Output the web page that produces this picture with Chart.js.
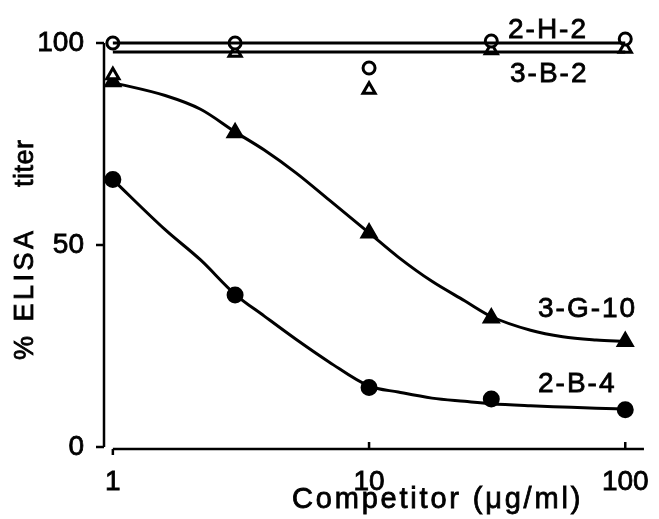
<!DOCTYPE html>
<html>
<head>
<meta charset="utf-8">
<script src="https://cdn.jsdelivr.net/npm/chart.js@4/dist/chart.umd.min.js"></script>
<style>
  html, body { margin: 0; padding: 0; background: #fff; }
  #wrap { width: 659px; height: 519px; }
</style>
</head>
<body>
<div id="wrap"><canvas id="chart"></canvas></div>
<script>
// measured points (x = competitor ug/ml)
const doses = [1, 3, 10, 30, 100];
const h2Values = [100, 100, 93.8, 100.5, 101];     // 2-H-2, open circles
const b2Values = [92, 97.6, 88.4, 98.2, 98.6];     // 3-B-2, open triangles
const g10Values = [90.4, 77.8, 53, 31.9, 26.1];    // 3-G-10, filled triangles
const b4Values = [66.2, 37.6, 14.7, 11.9, 9.2];    // 2-B-4, filled circles

// fitted curves
const curveX = [1, 1.6, 2.2, 3, 3.9, 5.2, 7, 10, 13, 17.6, 23.6, 30, 42.7, 57, 77, 100];
const g10Curve = [90.2, 87, 83.6, 78, 73.5, 67.8, 61.1, 53, 47, 41, 36.2, 32.3, 28.9, 27.3, 26.5, 26.1];
const b4Curve = [66.2, 53.8, 46.3, 37.8, 32.4, 26.6, 21, 15.1, 13.6, 12.1, 11.3, 10.7, 10.2, 9.9, 9.6, 9.4];
const lineX = [1, 100];
const h2Line = [100, 100];
const b2Line = [97.8, 97.8];

const xTicks = [1, 10, 100];
const yTicks = [0, 50, 100];

const FONT = '"Liberation Sans", Arial, sans-serif';

function pts(xs, ys) {
    return xs.map((x, i) => ({ x: x, y: ys[i] }));
}

function curve(xs, ys) {
    return {
        type: 'line',
        data: pts(xs, ys),
        borderColor: '#000',
        borderWidth: 3,
        pointRadius: 0,
        cubicInterpolationMode: 'monotone',
        fill: false,
        clip: false
    };
}

function marks(ys, style, filled, radius) {
    return {
        type: 'scatter',
        data: pts(doses, ys),
        pointStyle: style,
        pointRadius: radius,
        pointBackgroundColor: filled ? '#000' : '#fff',
        pointBorderColor: '#000',
        pointBorderWidth: 3,
        clip: false
    };
}

function boldText(ctx, text, x, y) {
    ctx.fillText(text, x, y);
    ctx.strokeText(text, x, y);
}

// axes lines, titles and series labels
const decor = {
    id: 'decor',
    afterDatasetsDraw(chart) {
        const ctx = chart.ctx;
        const xs = chart.scales.x, ys = chart.scales.y;
        const left = chart.chartArea.left, right = chart.chartArea.right;
        const y0 = ys.getPixelForValue(0);
        ctx.save();
        ctx.strokeStyle = '#000';
        ctx.lineWidth = 2.5;
        ctx.beginPath();
        ctx.moveTo(left, ys.getPixelForValue(100));
        ctx.lineTo(left, y0);
        yTicks.forEach(v => {
            const p = ys.getPixelForValue(v);
            ctx.moveTo(left, p);
            ctx.lineTo(left - 8, p);
        });
        ctx.moveTo(xs.getPixelForValue(1), y0 + 2);
        ctx.lineTo(right, y0 + 2);
        ctx.moveTo(xs.getPixelForValue(1), y0 + 2);
        ctx.lineTo(xs.getPixelForValue(1), y0 + 8);
        xTicks.slice(1).forEach(v => {
            const p = xs.getPixelForValue(v);
            ctx.moveTo(p, y0 + 2);
            ctx.lineTo(p, y0 - 5);
        });
        ctx.stroke();

        ctx.fillStyle = '#000';
        ctx.lineWidth = 0.8;
        ctx.font = '28px ' + FONT;
        ctx.letterSpacing = '2px';
        ctx.textBaseline = 'alphabetic';
        ctx.textAlign = 'left';
        boldText(ctx, '2-H-2', 508, 38);
        boldText(ctx, '3-B-2', 510, 82);
        boldText(ctx, '3-G-10', 538, 317);
        boldText(ctx, '2-B-4', 538, 392);

        ctx.font = '29px ' + FONT;
        ctx.letterSpacing = '2.8px';
        boldText(ctx, 'Competitor (\u03bcg/ml)', 292, 508);

        ctx.translate(33, 0);
        ctx.rotate(-Math.PI / 2);
        ctx.font = '27px ' + FONT;
        ctx.letterSpacing = '3.5px';
        boldText(ctx, '% ELISA', -360, 0);
        ctx.letterSpacing = '0.5px';
        boldText(ctx, 'titer', -187, 0);
        ctx.restore();
    }
};

const tickFont = {
    color: '#000',
    textStrokeColor: '#000',
    textStrokeWidth: 0.8,
    font: { family: FONT, size: 28 },
    callback: v => String(v)
};

new Chart(document.getElementById('chart'), {
    data: {
        datasets: [
            curve(lineX, h2Line),
            curve(lineX, b2Line),
            curve(curveX, g10Curve),
            curve(curveX, b4Curve),
            marks(h2Values, 'circle', false, 6),
            marks(b2Values, 'triangle', false, 7),
            marks(g10Values, 'triangle', true, 8),
            marks(b4Values, 'circle', true, 7)
        ]
    },
    options: {
        responsive: true,
        maintainAspectRatio: false,
        animation: false,
        layout: { padding: { top: 43, right: 7, bottom: 0, left: 0 } },
        plugins: {
            legend: { display: false },
            tooltip: { enabled: false }
        },
        scales: {
            x: {
                type: 'logarithmic',
                min: 0.9235,
                max: 118.3,
                afterBuildTicks: s => { s.ticks = xTicks.map(v => ({ value: v })); },
                afterFit: s => { s.height = 72; },
                grid: { display: false },
                border: { display: false },
                ticks: { ...tickFont, padding: 10 }
            },
            y: {
                min: 0,
                max: 100,
                afterBuildTicks: s => { s.ticks = yTicks.map(v => ({ value: v })); },
                afterFit: s => { s.width = 104; },
                grid: { display: false },
                border: { display: false },
                ticks: { ...tickFont, padding: 12 }
            }
        }
    },
    plugins: [decor]
});
</script>
</body>
</html>
